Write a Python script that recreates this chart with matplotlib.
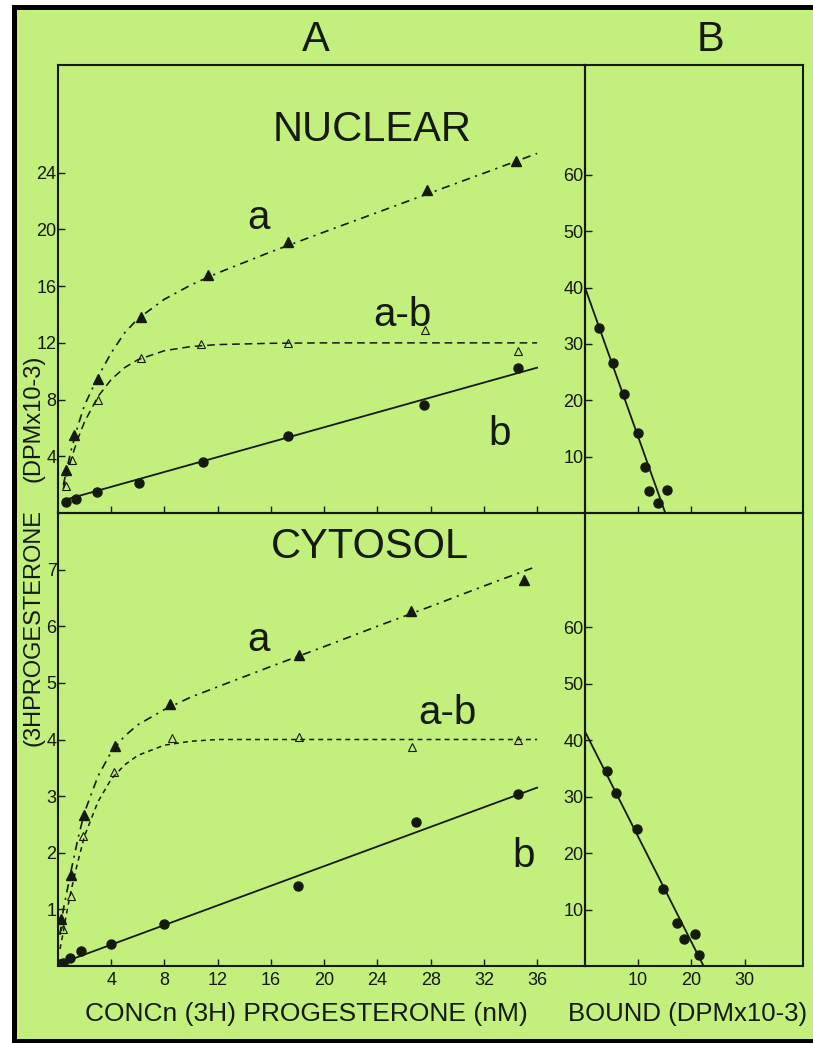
import matplotlib
matplotlib.use("Agg")
import matplotlib.pyplot as plt
from matplotlib.patches import Rectangle

# ------------------------------------------------------------
# Data
# ------------------------------------------------------------

# A, NUCLEAR: conc (nM) vs bound (DPM x 10-3)
nuc_a_x = [0.6, 1.2, 3.0, 6.2, 11.3, 17.3, 27.7, 34.4]
nuc_a_y = [3.0, 5.5, 9.45, 13.8, 16.8, 19.1, 22.8, 24.8]
nuc_ab_x = [0.6, 1.05, 3.0, 6.2, 10.75, 17.3, 27.6, 34.6]
nuc_ab_y = [1.9, 3.75, 8.0, 10.9, 11.95, 12.0, 12.9, 11.4]
nuc_b_x = [0.6, 1.35, 2.9, 6.05, 10.9, 17.3, 27.5, 34.6]
nuc_b_y = [0.8, 1.0, 1.45, 2.15, 3.6, 5.4, 7.6, 10.2]

# drawn curves (vertices)
nuc_curve_x = [0.4, 0.7, 1, 1.5, 2, 3, 4, 5, 6, 8, 10, 12, 16, 20, 24, 28, 32, 36]
nuc_a_curve = [1.98, 3.28, 4.46, 6.17, 7.62, 9.6, 11.3, 12.7, 13.7, 15.08,
               16.09, 16.93, 18.42, 19.82, 21.2, 22.59, 23.97, 25.36]
nuc_ab_curve = [1.71, 2.84, 3.83, 5.26, 6.44, 8.21, 9.42, 10.25, 10.81, 11.45,
                11.74, 11.88, 11.97, 12.0, 12.0, 12.0, 12.0, 12.0]
nuc_b_line_x = [0.4, 36]
nuc_b_line_y = [0.9, 10.25]

# A, CYTOSOL
cyt_a_x = [0.23, 0.95, 1.93, 4.3, 8.45, 18.1, 26.5, 35.0]
cyt_a_y = [0.83, 1.61, 2.67, 3.88, 4.62, 5.5, 6.27, 6.81]
cyt_ab_x = [0.35, 0.98, 1.85, 4.23, 8.55, 18.1, 26.6, 34.6]
cyt_ab_y = [0.65, 1.24, 2.3, 3.42, 4.03, 4.04, 3.86, 3.99]
cyt_b_x = [0.1, 0.35, 0.9, 1.75, 4.0, 8.0, 18.0, 26.9, 34.6]
cyt_b_y = [0.04, 0.06, 0.14, 0.27, 0.38, 0.74, 1.42, 2.54, 3.04]

cyt_curve_x = [0.15, 0.4, 0.7, 1, 1.5, 2, 3, 4, 5, 6, 8, 10, 12, 16, 20, 24, 28, 32, 36]
cyt_a_curve = [0.55, 1.0, 1.35, 1.7, 2.25, 2.72, 3.35, 3.78, 4.06, 4.26, 4.53,
               4.75, 4.93, 5.29, 5.64, 6.0, 6.35, 6.71, 7.06]
cyt_ab_curve = [0.3, 0.6, 1.0, 1.35, 1.85, 2.3, 2.9, 3.3, 3.55, 3.72, 3.9,
                3.97, 4.0, 4.0, 4.0, 4.0, 4.0, 4.0, 4.0]
cyt_b_line_x = [0, 36]
cyt_b_line_y = [0.03, 3.15]

# B, Scatchard plots: bound vs bound/free
nuc_bound = [2.6, 5.2, 7.3, 10.05, 11.3, 12.1, 13.7, 15.4]
nuc_ratio = [32.8, 26.7, 21.2, 14.2, 8.1, 3.9, 1.8, 4.0]
nuc_fit_x = [0, 15.1]
nuc_fit_y = [40, 0]

cyt_bound = [4.1, 5.9, 9.8, 14.7, 17.3, 18.6, 20.6, 21.5]
cyt_ratio = [34.6, 30.7, 24.2, 13.6, 7.7, 4.8, 5.7, 1.9]
cyt_fit_x = [0, 22.3]
cyt_fit_y = [41.5, 0]

conc_ticks = [4, 8, 12, 16, 20, 24, 28, 32, 36]
nuc_yticks = [4, 8, 12, 16, 20, 24]
cyt_yticks = [1, 2, 3, 4, 5, 6, 7]
bound_ticks = [10, 20, 30]
ratio_ticks = [10, 20, 30, 40, 50, 60]

# ------------------------------------------------------------
# Styling
# ------------------------------------------------------------
W, H = 813, 1043
GREEN = "#c3ef7c"
INK = "#141a0e"
FONT = ["Liberation Sans", "DejaVu Sans"]

plt.rcParams["lines.scale_dashes"] = False
plt.rcParams["font.family"] = FONT


def fx(px):
    return px / W


def fy(py):
    return 1 - py / H


fig = plt.figure(figsize=(W / 100, H / 100), dpi=100)
fig.patch.set_facecolor("white")

# green sheet with the black frame edges
fig.add_artist(Rectangle((fx(17), fy(1039)), 1 - fx(17), fy(10) - fy(1039),
                         transform=fig.transFigure, facecolor=GREEN,
                         edgecolor="none", zorder=-10))
fig.add_artist(Rectangle((fx(12), fy(1043)), fx(5), fy(5) - fy(1043),
                         transform=fig.transFigure, facecolor="black",
                         edgecolor="none", zorder=-9))
fig.add_artist(Rectangle((fx(12), fy(10)), 1 - fx(12), fy(5) - fy(10),
                         transform=fig.transFigure, facecolor="black",
                         edgecolor="none", zorder=-9))
fig.add_artist(Rectangle((fx(12), 0), 1 - fx(12), fy(1039),
                         transform=fig.transFigure, facecolor="black",
                         edgecolor="none", zorder=-9))

L, M, R = fx(58), fx(585), fx(803)
T, Mid, Bot = fy(65), fy(513), fy(966)

ax_nA = fig.add_axes([L, Mid, M - L, T - Mid])
ax_cA = fig.add_axes([L, Bot, M - L, Mid - Bot])
ax_nB = fig.add_axes([M, Mid, R - M, T - Mid])
ax_cB = fig.add_axes([M, Bot, R - M, Mid - Bot])

for ax in (ax_nA, ax_cA, ax_nB, ax_cB):
    ax.set_facecolor("none")
    for s in ax.spines.values():
        s.set_linewidth(1.5)
        s.set_color(INK)
    ax.tick_params(direction="in", length=5, width=1.0, color=INK,
                   labelcolor=INK, labelsize=13, pad=1,
                   top=False, right=False)

dash_dot = (0, (6, 4, 1.5, 4))
dash_n = (0, (5.5, 3.5))
dash_c = (0, (3.5, 3))


def draw_A(ax, cx, a_c, ab_c, bx, by, ax_, ay, abx, aby, px, py, ab_dash):
    ax.plot(cx, a_c, color=INK, lw=1.2, linestyle=dash_dot)
    ax.plot(cx, ab_c, color=INK, lw=1.1, linestyle=ab_dash)
    ax.plot(bx, by, color=INK, lw=1.3)
    ax.plot(ax_, ay, linestyle="none", marker="^", ms=6.5, color=INK)
    ax.plot(abx, aby, linestyle="none", marker="^", ms=6, mfc="none",
            mec=INK, mew=0.8)
    ax.plot(px, py, linestyle="none", marker="o", ms=6.5, color=INK)


draw_A(ax_nA, nuc_curve_x, nuc_a_curve, nuc_ab_curve, nuc_b_line_x, nuc_b_line_y,
       nuc_a_x, nuc_a_y, nuc_ab_x, nuc_ab_y, nuc_b_x, nuc_b_y, dash_n)
draw_A(ax_cA, cyt_curve_x, cyt_a_curve, cyt_ab_curve, cyt_b_line_x, cyt_b_line_y,
       cyt_a_x, cyt_a_y, cyt_ab_x, cyt_ab_y, cyt_b_x, cyt_b_y, dash_c)

for ax, ymax, yt in ((ax_nA, 31.6, nuc_yticks), (ax_cA, 8.0, cyt_yticks)):
    ax.set_xlim(0, 39.6)
    ax.set_ylim(0, ymax)
    ax.set_xticks(conc_ticks)
    ax.set_yticks(yt)
    ax.set_yticklabels([str(v) for v in yt])
ax_nA.set_xticklabels([])
ax_cA.set_xticklabels([str(v) for v in conc_ticks])
ax_cA.tick_params(axis="x", pad=4)

ax_nB.plot(nuc_fit_x, nuc_fit_y, color=INK, lw=1.3)
ax_nB.plot(nuc_bound, nuc_ratio, linestyle="none", marker="o", ms=6.5, color=INK)
ax_cB.plot(cyt_fit_x, cyt_fit_y, color=INK, lw=1.3)
ax_cB.plot(cyt_bound, cyt_ratio, linestyle="none", marker="o", ms=6.5, color=INK)
for ax, ymax in ((ax_nB, 79.5), (ax_cB, 80.2)):
    ax.set_xlim(0, 41)
    ax.set_ylim(0, ymax)
    ax.set_xticks(bound_ticks)
    ax.set_yticks(ratio_ticks)
    ax.set_yticklabels([str(v) for v in ratio_ticks])
ax_nB.set_xticklabels([])
ax_cB.set_xticklabels([str(v) for v in bound_ticks])
ax_cB.tick_params(axis="x", pad=4)

# panel titles and curve labels
big = dict(color=INK, ha="center", va="center")
fig.text(fx(316), fy(40), "A", fontsize=30, **big)
fig.text(fx(710), fy(40), "B", fontsize=30, **big)
ax_nA.text(0.597, 0.855, "NUCLEAR", transform=ax_nA.transAxes, fontsize=30, **big)
ax_cA.text(0.592, 0.925, "CYTOSOL", transform=ax_cA.transAxes, fontsize=30, **big)

ax_nA.text(15.1, 20.8, "a", fontsize=29, **big)
ax_nA.text(25.9, 14.0, "a-b", fontsize=29, **big)
ax_nA.text(33.2, 5.6, "b", fontsize=29, **big)
ax_cA.text(15.1, 5.75, "a", fontsize=29, **big)
ax_cA.text(29.3, 4.46, "a-b", fontsize=29, **big)
ax_cA.text(35.0, 1.95, "b", fontsize=29, **big)

# axis titles
fig.text(fx(306), fy(1014), "CONCn (3H) PROGESTERONE (nM)", fontsize=19,
         color=INK, ha="center", va="center")
fig.text(fx(688), fy(1014), "BOUND (DPMx10-3)", fontsize=18.5,
         color=INK, ha="center", va="center")
fig.text(fx(34), fy(628), "(3HPROGESTERONE", fontsize=17, rotation=90,
         color=INK, ha="center", va="center")
fig.text(fx(34), fy(418), "(DPMx10-3)", fontsize=17, rotation=90,
         color=INK, ha="center", va="center")

fig.savefig("out.png", dpi=100, facecolor=fig.get_facecolor())
